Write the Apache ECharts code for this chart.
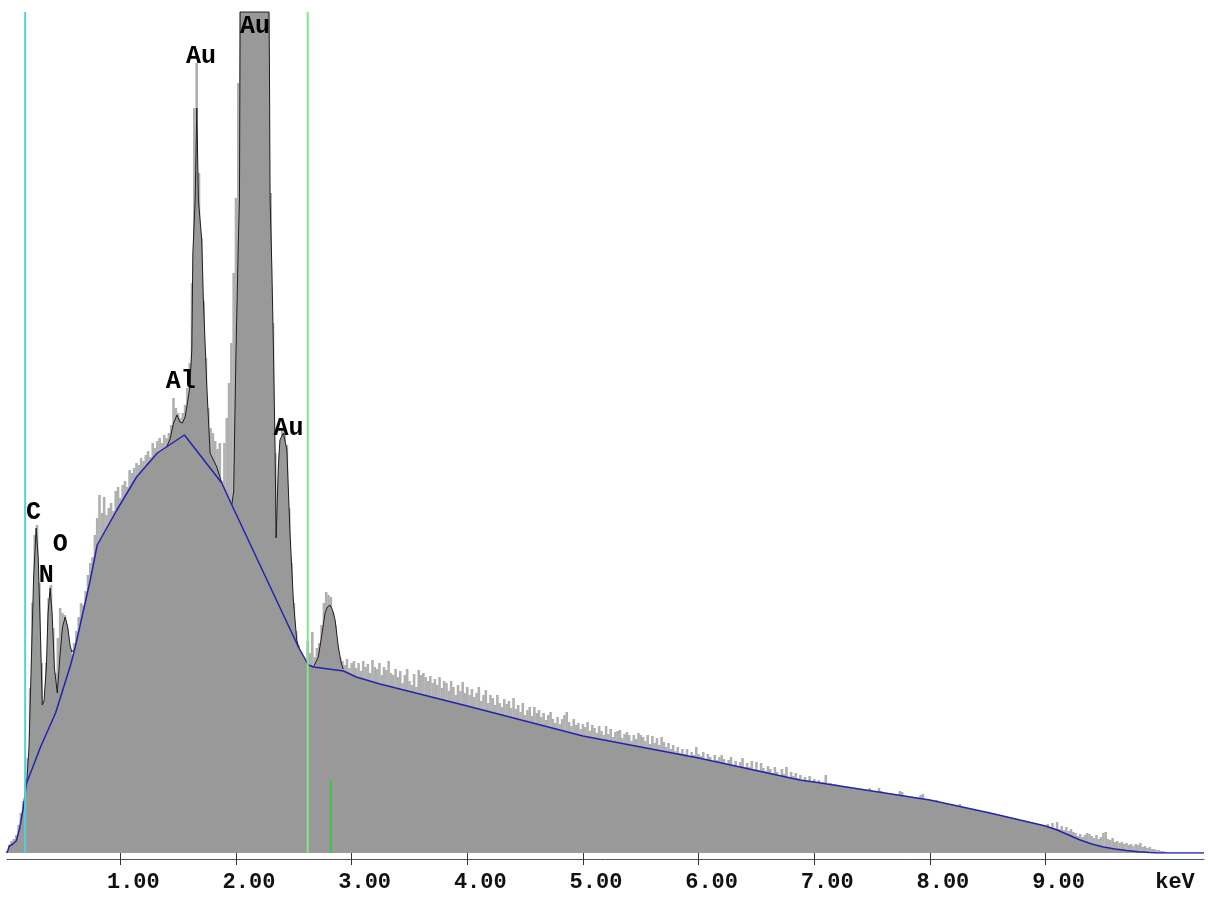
<!DOCTYPE html>
<html>
<head>
<meta charset="utf-8">
<title>EDS spectrum</title>
<script src="https://cdn.jsdelivr.net/npm/echarts@6/dist/echarts.min.js"></script>
<style>
    html, body { margin: 0; padding: 0; background: #fff; }
    #chart { width: 1208px; height: 900px; }
</style>
</head>
<body>
<div id="chart"></div>
<script>
// channels: 0.02 keV wide, first channel at 0.02 keV
var chStart = 0.02;
var chStep = 0.02;

// raw counts per channel
var counts = [
    2, 8, 12, 14, 18, 28, 40, 52, 70, 95,
    165, 250, 318, 328, 270, 190, 145, 190, 255, 268,
    225, 180, 215, 245, 240, 238, 225, 205, 198, 210,
    222, 236, 250, 248, 262, 278, 290, 296, 318, 335,
    358, 340, 356, 338, 345, 350, 342, 362, 366, 355,
    368, 372, 366, 383, 380, 385, 390, 388, 395, 392,
    398, 402, 396, 410, 405, 412, 415, 410, 418, 415,
    420, 428, 455, 445, 440, 435, 440, 448, 465, 490,
    570, 745, 790, 680, 615, 552, 495, 445, 425, 420,
    412, 404, 410, 372, 410, 435, 470, 510, 580, 655,
    770, 841, 841, 841, 841, 841, 841, 841, 841, 841,
    841, 841, 841, 841, 660, 530, 400, 320, 400, 425,
    420, 408, 345, 290, 250, 222, 208, 196, 190, 192,
    212, 200, 221, 196, 205, 210, 228, 250, 261, 258,
    256, 240, 228, 205, 195, 192, 188, 194, 185, 190,
    192, 185, 190, 182, 192, 186, 189, 180, 193, 186,
    184, 190, 178, 186, 183, 192, 180, 178, 184, 176,
    182, 170, 178, 184, 172, 168, 179, 166, 183, 178,
    180, 176, 172, 177, 170, 174, 168, 176, 165, 172,
    170, 162, 172, 166, 158, 168, 162, 171, 160, 166,
    158, 164, 156, 160, 166, 152, 158, 163, 150, 158,
    155, 148, 158, 150, 146, 154, 149, 152, 145, 155,
    144, 148, 141, 150, 138, 143, 146, 137, 146, 140,
    143, 136, 140, 133, 138, 141, 134, 130, 136, 129,
    134, 138, 141, 131, 127, 134, 128, 130, 124, 129,
    126, 131, 122, 128, 125, 120, 127, 122, 118, 127,
    119, 124, 116, 121, 122, 123, 115, 119, 121, 118,
    112, 118, 114, 120, 118, 116, 112, 118, 109, 117,
    110, 115, 108, 116, 111, 106, 110, 104, 108, 102,
    106, 100, 104, 99, 104, 97, 101, 98, 106, 99,
    97, 101, 94, 99, 96, 92, 98, 93, 96, 98,
    94, 89, 93, 96, 88, 92, 87, 91, 95, 86,
    90, 86, 92, 84, 91, 83, 90, 85, 82, 87,
    84, 80, 86, 81, 78, 84, 79, 86, 76, 81,
    77, 80, 75, 78, 73, 76, 72, 77, 71, 74,
    69, 73, 68, 71, 78, 67, 70, 66, 69, 65,
    56, 64, 67, 62, 66, 63, 65, 61, 64, 60,
    63, 59, 62, 65, 60, 57, 61, 65, 62, 57,
    59, 56, 60, 55, 58, 54, 62, 61, 54, 57,
    53, 56, 52, 55, 51, 58, 59, 50, 54, 51,
    52, 49, 53, 46, 51, 47, 50, 46, 49, 45,
    47, 44, 49, 42, 45, 41, 44, 40, 43, 39,
    42, 38, 41, 37, 40, 36, 39, 30, 38, 35,
    36, 33, 37, 32, 35, 31, 34, 30, 33, 29,
    32, 29, 31, 27, 30, 26, 29, 25, 28, 27,
    29, 26, 30, 25, 31, 24, 27, 23, 26, 22,
    24, 21, 20, 17, 19, 16, 18, 20, 19, 17,
    15, 18, 14, 16, 20, 21, 14, 13, 15, 11,
    12, 10, 11, 9, 10, 8, 9, 7, 9, 8,
    10, 6, 7, 5, 6, 4, 4, 3, 3, 2,
    2, 1
];

// background (blue)
var bgE = [0.02, 0.04, 0.07, 0.10, 0.13, 0.16, 0.19, 0.31, 0.44, 0.57, 0.61, 0.74, 0.80, 0.97, 1.14, 1.32,
    1.554, 1.877, 1.964, 2.54, 2.626, 2.67, 2.93, 3.04, 3.245, 4.0, 5.0, 6.0, 6.875, 7.0, 8.0, 8.52,
    9.0, 9.1, 9.2, 9.3, 9.4, 9.5, 9.6, 9.7, 9.8, 9.9, 9.96, 10.37];
var bgV = [0, 7, 9, 12, 25, 45, 70, 106, 140, 188, 206, 273, 308, 343, 376, 400,
    418, 370, 348, 206, 188, 186, 182, 176, 169, 147, 117, 95, 73, 71, 53, 40,
    27, 23, 18, 13, 9, 6, 4, 2.5, 1.2, 0.4, 0, 0];

// fitted peaks (black), one segment per group
var fitAE = [0.19, 0.21, 0.23, 0.25, 0.272, 0.29, 0.31, 0.325, 0.34, 0.36, 0.375, 0.393, 0.41, 0.43, 0.455, 0.48, 0.50, 0.523, 0.545, 0.565, 0.58, 0.595];
var fitAV = [70, 105, 190, 275, 325, 295, 215, 148, 152, 185, 240, 265, 240, 185, 160, 200, 226, 236, 226, 208, 201, 203];
var fitBE = [1.40, 1.43, 1.46, 1.49, 1.515, 1.537, 1.56, 1.58, 1.60, 1.618, 1.627, 1.647, 1.661, 1.675, 1.704, 1.718, 1.748, 1.776, 1.834, 1.877];
var fitBV = [406, 414, 430, 438, 431, 430, 436, 450, 465, 503, 600, 653, 745, 653, 613, 553, 466, 400, 386, 370];
var fitCE = [1.964, 1.98, 2.00, 2.02, 2.03, 2.036, 2.10, 2.16, 2.22, 2.285, 2.289, 2.295, 2.31, 2.324, 2.338, 2.347, 2.366, 2.38, 2.41, 2.44, 2.467, 2.496, 2.525, 2.545];
var fitCV = [348, 362, 500, 610, 655, 841, 841, 841, 841, 841, 793, 653, 586, 503, 403, 315, 386, 413, 420, 403, 320, 253, 213, 205];
var fitDE = [2.669, 2.712, 2.742, 2.77, 2.79, 2.813, 2.835, 2.857, 2.885, 2.91, 2.928];
var fitDV = [186, 196, 218, 240, 246, 248, 243, 233, 206, 190, 184];

// marker lines
var markE = [0.177, 2.62, 2.82];
var markTop = [841, 841, 73];

// element labels
var elemNames = ['C', 'N', 'O', 'Al', 'Au', 'Au', 'Au'];
var elemE = [0.249, 0.359, 0.48, 1.523, 1.698, 2.165, 2.453];
var elemV = [340, 277, 308, 471, 796, 826, 424];

var tickVals = [1, 2, 3, 4, 5, 6, 7, 8, 9];

function pairs(xs, ys) {
    return xs.map(function (x, i) { return [x, ys[i]]; });
}

var spectrum = counts.map(function (c, i) {
    return [+(chStart + i * chStep).toFixed(2), c];
});

var chart = echarts.init(document.getElementById('chart'));

var fits = [[fitAE, fitAV], [fitBE, fitBV], [fitCE, fitCV], [fitDE, fitDV]];

// solid body under background + fitted peaks
var fillSeries = [[bgE, bgV]].concat(fits).map(function (f) {
    return {
        type: 'line',
        data: pairs(f[0], f[1]),
        symbol: 'none',
        z: 2,
        lineStyle: { width: 0 },
        areaStyle: { color: '#999999', opacity: 1 }
    };
});

var fitSeries = fits.map(function (f) {
    return {
        type: 'line',
        data: pairs(f[0], f[1]),
        symbol: 'none',
        clip: false,
        z: 3,
        lineStyle: { color: '#1e1e1e', width: 1 }
    };
});

var markColors = ['#4fd3d8', '#86e486', '#3fc43f'];
var markSeries = markE.map(function (e, i) {
    return {
        type: 'line',
        data: [[e, 0], [e, markTop[i]]],
        symbol: 'none',
        clip: false,
        z: 5,
        lineStyle: { color: markColors[i], width: 2 }
    };
});

var option = {
    animation: false,
    backgroundColor: '#ffffff',
    grid: { left: 7, right: 4, top: 12, bottom: 47 },
    xAxis: [{
        type: 'value',
        min: 0.02,
        max: 10.37,
        splitLine: { show: false },
        axisLine: { show: false },
        axisTick: {
            show: true,
            length: 12,
            customValues: tickVals,
            lineStyle: { color: '#333', width: 1 }
        },
        axisLabel: {
            customValues: tickVals,
            margin: 18,
            color: '#111',
            fontFamily: 'Liberation Mono',
            fontWeight: 'bold',
            fontSize: 22,
            align: 'center',
            padding: [0, 0, 0, 26],
            formatter: function (v) { return v.toFixed(2); }
        },
        name: 'keV',
        nameLocation: 'end',
        nameGap: -29,
        nameTextStyle: {
            color: '#111',
            fontFamily: 'Liberation Mono',
            fontWeight: 'bold',
            fontSize: 22,
            align: 'center',
            verticalAlign: 'top',
            padding: [18, 0, 0, 0]
        }
    }, {
        type: 'value',
        min: 0.02,
        max: 10.37,
        offset: 6,
        position: 'bottom',
        splitLine: { show: false },
        axisTick: { show: false },
        axisLabel: { show: false },
        axisLine: { show: true, lineStyle: { color: '#555', width: 1 } }
    }],
    yAxis: { type: 'value', min: 0, max: 841, show: false },
    series: [{
        type: 'bar',
        data: spectrum,
        barWidth: 2.6,
        z: 1,
        itemStyle: { color: '#b0b0b0' }
    }].concat(fillSeries).concat(fitSeries).concat([{
        type: 'line',
        data: pairs(bgE, bgV),
        symbol: 'none',
        z: 4,
        lineStyle: { color: '#2323ad', width: 1.5 }
    }]).concat(markSeries).concat([{
        type: 'scatter',
        data: elemE.map(function (e, i) { return { name: elemNames[i], value: [e, elemV[i]] }; }),
        symbolSize: 1,
        itemStyle: { color: 'transparent', opacity: 1 },
        z: 6,
        label: {
            show: true,
            position: 'inside',
            formatter: '{b}',
            color: '#000',
            fontFamily: 'Liberation Mono',
            fontWeight: 'bold',
            fontSize: 25
        }
    }])
};

chart.setOption(option);
</script>
</body>
</html>
